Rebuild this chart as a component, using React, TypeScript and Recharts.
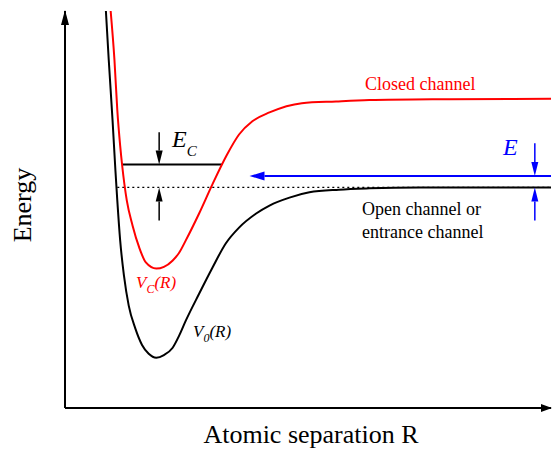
import React from "react";
import { LineChart, Line, XAxis, YAxis, ReferenceLine, ReferenceDot } from "recharts";

// open channel potential V0(R)
const V0_R = [0.22, 0.25, 0.29, 0.32, 0.34, 0.37, 0.41, 0.46, 0.53, 0.6, 0.67, 0.75, 0.83, 0.92, 0.99, 1.06, 1.2, 1.34, 1.48, 1.62, 1.8, 1.94, 2.15, 2.36, 2.67, 2.99, 3.52, 4.15, 4.9];
const V0_E = [9.0, 7.89, 6.52, 5.39, 4.7, 3.8, 3.0, 2.32, 1.8, 1.43, 1.23, 1.14, 1.2, 1.36, 1.64, 1.98, 2.59, 3.18, 3.73, 4.09, 4.41, 4.59, 4.77, 4.89, 4.95, 4.98, 5.0, 5.0, 5.0];

// closed channel potential Vc(R)
const VC_R = [0.27, 0.31, 0.34, 0.37, 0.39, 0.44, 0.5, 0.57, 0.64, 0.75, 0.83, 0.92, 0.99, 1.06, 1.2, 1.34, 1.49, 1.62, 1.76, 1.94, 2.28, 2.64, 2.99, 3.83, 4.9];
const VC_E = [9.0, 7.89, 6.75, 5.95, 5.52, 4.7, 4.14, 3.64, 3.3, 3.16, 3.2, 3.34, 3.52, 3.8, 4.41, 5.07, 5.73, 6.2, 6.5, 6.7, 6.91, 6.95, 6.98, 7.0, 7.01];

const R_TICKS = [0, 1, 2, 3, 4];
const E_TICKS = [1, 2, 3, 4, 5, 6, 7, 8];

const R_MIN = -0.21;
const R_MAX = 4.9;
const E_MAX = 9;
const THRESHOLD = 5.0; // open channel asymptote
const E_BOUND = 5.52; // bound state of closed channel
const E_COLL = 5.26; // collision energy

const v0Data = V0_R.map((r, i) => ({ r, e: V0_E[i] }));
const vcData = VC_R.map((r, i) => ({ r, e: VC_E[i] }));

const SERIF = '"Liberation Serif", "Times New Roman", serif';

const arrow = (head: number, half: number) => (p: any) => {
  const { x1, y1, x2, y2, stroke, strokeWidth } = p;
  const dx = x2 - x1;
  const dy = y2 - y1;
  const len = Math.hypot(dx, dy) || 1;
  const ux = dx / len;
  const uy = dy / len;
  const bx = x2 - ux * head;
  const by = y2 - uy * head;
  const pts = `${x2},${y2} ${bx - uy * half},${by + ux * half} ${bx + uy * half},${by - ux * half}`;
  return (
    <g>
      <line x1={x1} y1={y1} x2={bx} y2={by} stroke={stroke} strokeWidth={strokeWidth} />
      <polygon points={pts} fill={stroke} />
    </g>
  );
};

const upHead = (p: any) => (
  <polygon points={`${p.cx},${p.cy - 1} ${p.cx - 4},${p.cy + 14} ${p.cx + 4},${p.cy + 14}`} fill="#000" />
);
const rightHead = (p: any) => (
  <polygon points={`${p.cx + 1},${p.cy} ${p.cx - 10},${p.cy - 4} ${p.cx - 10},${p.cy + 4}`} fill="#000" />
);

export default function App() {
  return (
    <div style={{ position: "relative", width: 552, height: 450, background: "#fff" }}>
      <style>{"body{margin:0}"}</style>
      <LineChart width={552} height={450} margin={{ top: 11, right: 1, bottom: 42, left: 65 }}>
        <XAxis
          type="number"
          dataKey="r"
          domain={[R_MIN, R_MAX]}
          ticks={R_TICKS}
          allowDataOverflow
          height={1}
          mirror
          tick={false}
          tickSize={3}
          axisLine={{ stroke: "#000", strokeWidth: 2 }}
          tickLine={{ stroke: "#000", strokeWidth: 1 }}
        />
        <YAxis
          type="number"
          domain={[0, E_MAX]}
          ticks={E_TICKS}
          allowDataOverflow
          width={1}
          mirror
          tick={false}
          tickSize={3}
          axisLine={{ stroke: "#000", strokeWidth: 2 }}
          tickLine={{ stroke: "#000", strokeWidth: 1 }}
        />
        <ReferenceLine
          segment={[{ x: 0.34, y: THRESHOLD }, { x: R_MAX, y: THRESHOLD }]}
          stroke="#000"
          strokeWidth={1.2}
          strokeDasharray="2 3"
          ifOverflow="visible"
        />
        <ReferenceLine
          segment={[{ x: 0.39, y: E_BOUND }, { x: 1.44, y: E_BOUND }]}
          stroke="#000"
          strokeWidth={2}
          ifOverflow="visible"
        />
        <Line data={v0Data} dataKey="e" type="monotone" stroke="#000" strokeWidth={2} dot={false} isAnimationActive={false} />
        <Line data={vcData} dataKey="e" type="monotone" stroke="#FF0000" strokeWidth={2} dot={false} isAnimationActive={false} />
        <ReferenceLine
          segment={[{ x: 0.78, y: 6.25 }, { x: 0.78, y: E_BOUND }]}
          stroke="#000"
          strokeWidth={1.5}
          ifOverflow="visible"
          shape={arrow(14, 3.5)}
        />
        <ReferenceLine
          segment={[{ x: 0.78, y: 4.25 }, { x: 0.78, y: THRESHOLD }]}
          stroke="#000"
          strokeWidth={1.5}
          ifOverflow="visible"
          shape={arrow(14, 3.5)}
        />
        <ReferenceLine
          segment={[{ x: R_MAX, y: E_COLL }, { x: 1.73, y: E_COLL }]}
          stroke="#0000FF"
          strokeWidth={2}
          ifOverflow="visible"
          shape={arrow(15, 4.5)}
        />
        <ReferenceLine
          segment={[{ x: 4.73, y: 6.0 }, { x: 4.73, y: E_COLL }]}
          stroke="#0000FF"
          strokeWidth={1.5}
          ifOverflow="visible"
          shape={arrow(14, 3.5)}
        />
        <ReferenceLine
          segment={[{ x: 4.73, y: 4.25 }, { x: 4.73, y: THRESHOLD }]}
          stroke="#0000FF"
          strokeWidth={1.5}
          ifOverflow="visible"
          shape={arrow(14, 3.5)}
        />
        <ReferenceDot x={R_MIN} y={E_MAX} r={0} ifOverflow="visible" shape={upHead} />
        <ReferenceDot x={R_MAX} y={0} r={0} ifOverflow="visible" shape={rightHead} />
      </LineChart>
      <svg
        width={552}
        height={450}
        style={{ position: "absolute", left: 0, top: 0, pointerEvents: "none" }}
        fontFamily={SERIF}
      >
        <text transform="translate(31,205) rotate(-90)" textAnchor="middle" fontSize={26} fill="#000">
          Energy
        </text>
        <text x={311} y={443} textAnchor="middle" fontSize={26} fill="#000">
          Atomic separation R
        </text>
        <text x={172} y={147} fontSize={24} fontStyle="italic" fill="#000">
          E<tspan fontSize={15} dy={9}>C</tspan>
        </text>
        <text x={503} y={155} fontSize={24} fontStyle="italic" fill="#0000FF">
          E
        </text>
        <text x={365} y={90} fontSize={18} fill="#FF0000">
          Closed channel
        </text>
        <text x={362} y={215} fontSize={18} fill="#000">
          Open channel or
        </text>
        <text x={362} y={238} fontSize={18} fill="#000">
          entrance channel
        </text>
        <text x={136} y={288} fontSize={17} fontStyle="italic" fill="#FF0000">
          V<tspan fontSize={12} dy={5}>C</tspan>
          <tspan fontSize={17} dy={-5}>(R)</tspan>
        </text>
        <text x={193} y={337} fontSize={17} fontStyle="italic" fill="#000">
          V<tspan fontSize={12} dy={5}>0</tspan>
          <tspan fontSize={17} dy={-5}>(R)</tspan>
        </text>
      </svg>
    </div>
  );
}
